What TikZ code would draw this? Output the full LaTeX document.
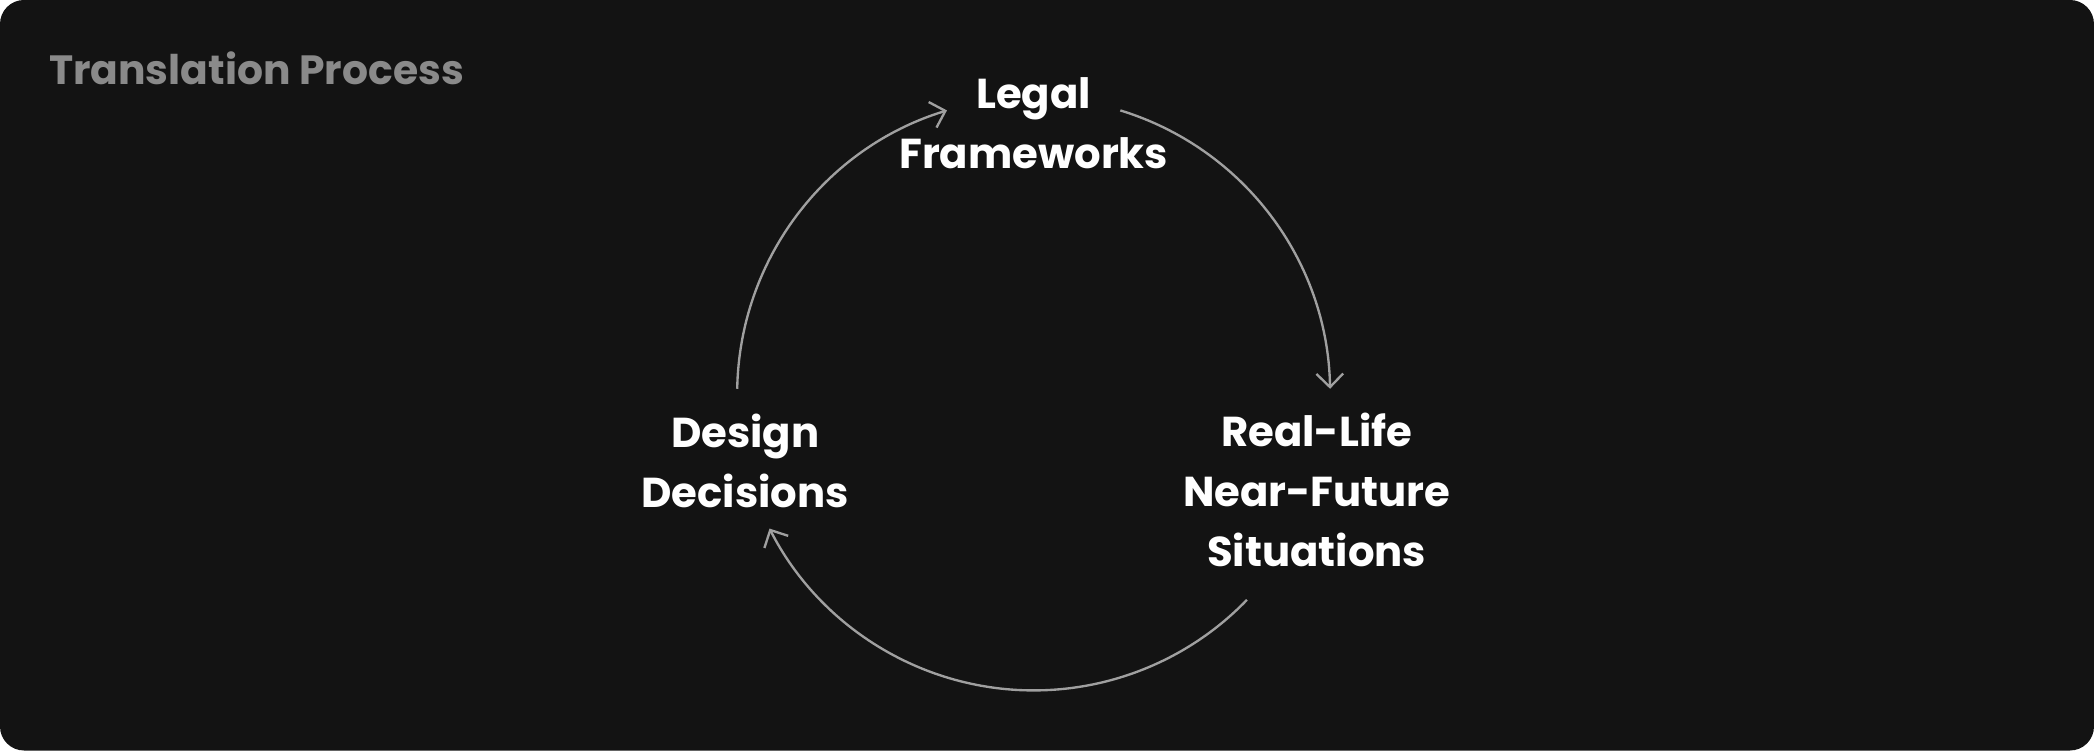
\documentclass[tikz,border=0pt]{standalone}
\usepackage{fontspec}
\setmainfont{Poppins}
\usetikzlibrary{positioning,arrows.meta,calc}
\definecolor{bgdark}{HTML}{131313}
\definecolor{arcgray}{HTML}{A0A0A0}
\definecolor{titlegray}{HTML}{8A8A8A}
\begin{document}
\begin{tikzpicture}[x=0.01cm, y=-0.01cm,
    stage/.style={text=white, font=\fontsize{8.9}{12.8}\selectfont\bfseries, align=center},
    cycle/.style={draw=arcgray, line width=0.5pt, -{Straight Barb[length=1mm, width=2mm]}}
  ]
    \fill[white] (0,0) rectangle (1568,562);
    \fill[bgdark, rounded corners=0.18cm] (0,0) rectangle (1568,562);
    \node[text=titlegray, font=\fontsize{8.7}{12}\selectfont\bfseries, anchor=west, inner sep=0pt] (title) at (36,51) {Translation Process};
    \node[stage] (legal)  at (774,92)  {Legal\\Frameworks};
    \node[stage] (real)   at (986,367) {Real-Life\\Near-Future\\Situations};
    \node[stage] (design) at (558,345) {Design\\Decisions};
    % points on the cycle
    \coordinate (a1) at ($(774,295)+(73:222 and -222)$);
    \coordinate (a2) at ($(774,295)+(-44:222 and -222)$);
    \coordinate (a3) at ($(774,295)+(179:222 and -222)$);
    \draw[cycle] (a1) arc[start angle=73, end angle=1, x radius=222, y radius=-222];
    \draw[cycle] (a2) arc[start angle=-44, end angle=-153, x radius=222, y radius=-222];
    \draw[cycle] (a3) arc[start angle=179, end angle=107, x radius=222, y radius=-222];
\end{tikzpicture}
\end{document}
